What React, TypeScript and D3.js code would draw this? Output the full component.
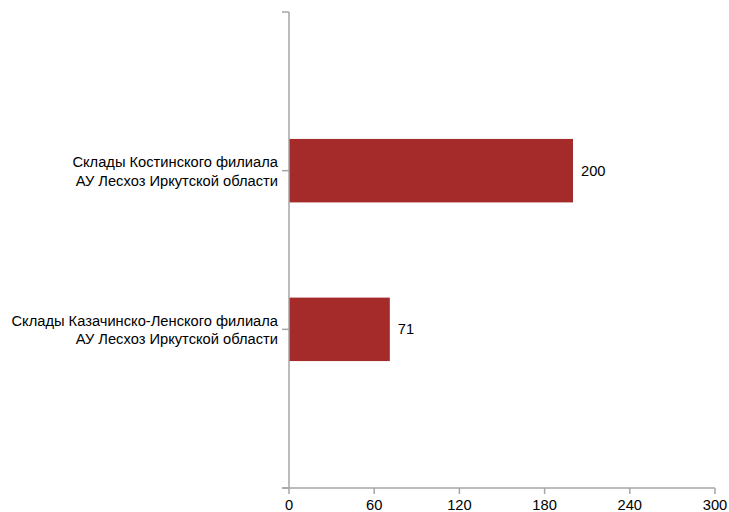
import React, { useEffect, useRef } from 'react';
import * as d3 from 'd3';

const categories = [
    ['Склады Костинского филиала', 'АУ Лесхоз Иркутской области'],
    ['Склады Казачинско-Ленского филиала', 'АУ Лесхоз Иркутской области'],
];
const values = [200, 71];
const xTicks = [0, 60, 120, 180, 240, 300];

const App: React.FC = () => {
    const svgRef = useRef<SVGSVGElement>(null);
    const width = 729;
    const height = 512;

    useEffect(() => {
        if (!svgRef.current) return;
        const svg = d3.select(svgRef.current);
        svg.selectAll("*").remove();

        const margin = { top: 12, right: 14, bottom: 24, left: 289 };
        const innerWidth = width - margin.left - margin.right;
        const innerHeight = height - margin.top - margin.bottom;
        const axisColor = "#a6a6a6";
        const font = "'Liberation Sans', Arial, sans-serif";
        const fontSize = "14.7px";

        const g = svg.append("g")
            .attr("transform", `translate(${margin.left},${margin.top})`);

        const x = d3.scaleLinear().domain([0, 300]).range([0, innerWidth]);
        // slots: empty top, two categories, empty bottom edge
        const y = d3.scaleLinear().domain([0, categories.length + 1]).range([0, innerHeight]);
        const step = y(1) - y(0);
        const barH = step * 0.4;

        // bars
        g.selectAll("rect.bar")
            .data(values)
            .join("rect")
            .attr("class", "bar")
            .attr("x", x(0))
            .attr("y", (_, i) => y(i + 1) - barH / 2)
            .attr("width", d => x(d) - x(0))
            .attr("height", barH)
            .attr("fill", "#a52a2a");

        // value labels
        g.selectAll("text.val")
            .data(values)
            .join("text")
            .attr("class", "val")
            .attr("x", d => x(d) + 8)
            .attr("y", (_, i) => y(i + 1))
            .attr("dy", "0.35em")
            .attr("fill", "#000")
            .style("font-family", font)
            .style("font-size", fontSize)
            .text(d => d);

        // y axis
        g.append("line")
            .attr("x1", 0).attr("x2", 0)
            .attr("y1", 0).attr("y2", innerHeight)
            .attr("stroke", axisColor).attr("stroke-width", 1.5);
        d3.range(0, categories.length + 2).forEach(i => {
            g.append("line")
                .attr("x1", -7).attr("x2", 0)
                .attr("y1", y(i)).attr("y2", y(i))
                .attr("stroke", axisColor).attr("stroke-width", 1.5);
        });

        // category labels
        categories.forEach((lines, i) => {
            const t = g.append("text")
                .attr("x", -11)
                .attr("y", y(i + 1))
                .attr("text-anchor", "end")
                .attr("fill", "#000")
                .style("font-family", font)
                .style("font-size", fontSize);
            lines.forEach((line, j) => {
                t.append("tspan")
                    .attr("x", -11)
                    .attr("dy", j === 0 ? "-0.25em" : "1.28em")
                    .text(line);
            });
        });

        // x axis
        g.append("line")
            .attr("x1", -7).attr("x2", innerWidth)
            .attr("y1", innerHeight).attr("y2", innerHeight)
            .attr("stroke", axisColor).attr("stroke-width", 1.5);
        xTicks.forEach(t => {
            g.append("line")
                .attr("x1", x(t)).attr("x2", x(t))
                .attr("y1", innerHeight).attr("y2", innerHeight + 6)
                .attr("stroke", axisColor).attr("stroke-width", 1.5);
            g.append("text")
                .attr("x", x(t))
                .attr("y", innerHeight + 22)
                .attr("text-anchor", "middle")
                .attr("fill", "#000")
                .style("font-family", font)
                .style("font-size", fontSize)
                .text(t);
        });
    }, []);

    return <svg ref={svgRef} width={width} height={height} style={{ display: 'block', position: 'absolute', left: 0, top: 0 }} />;
};

export default App;
